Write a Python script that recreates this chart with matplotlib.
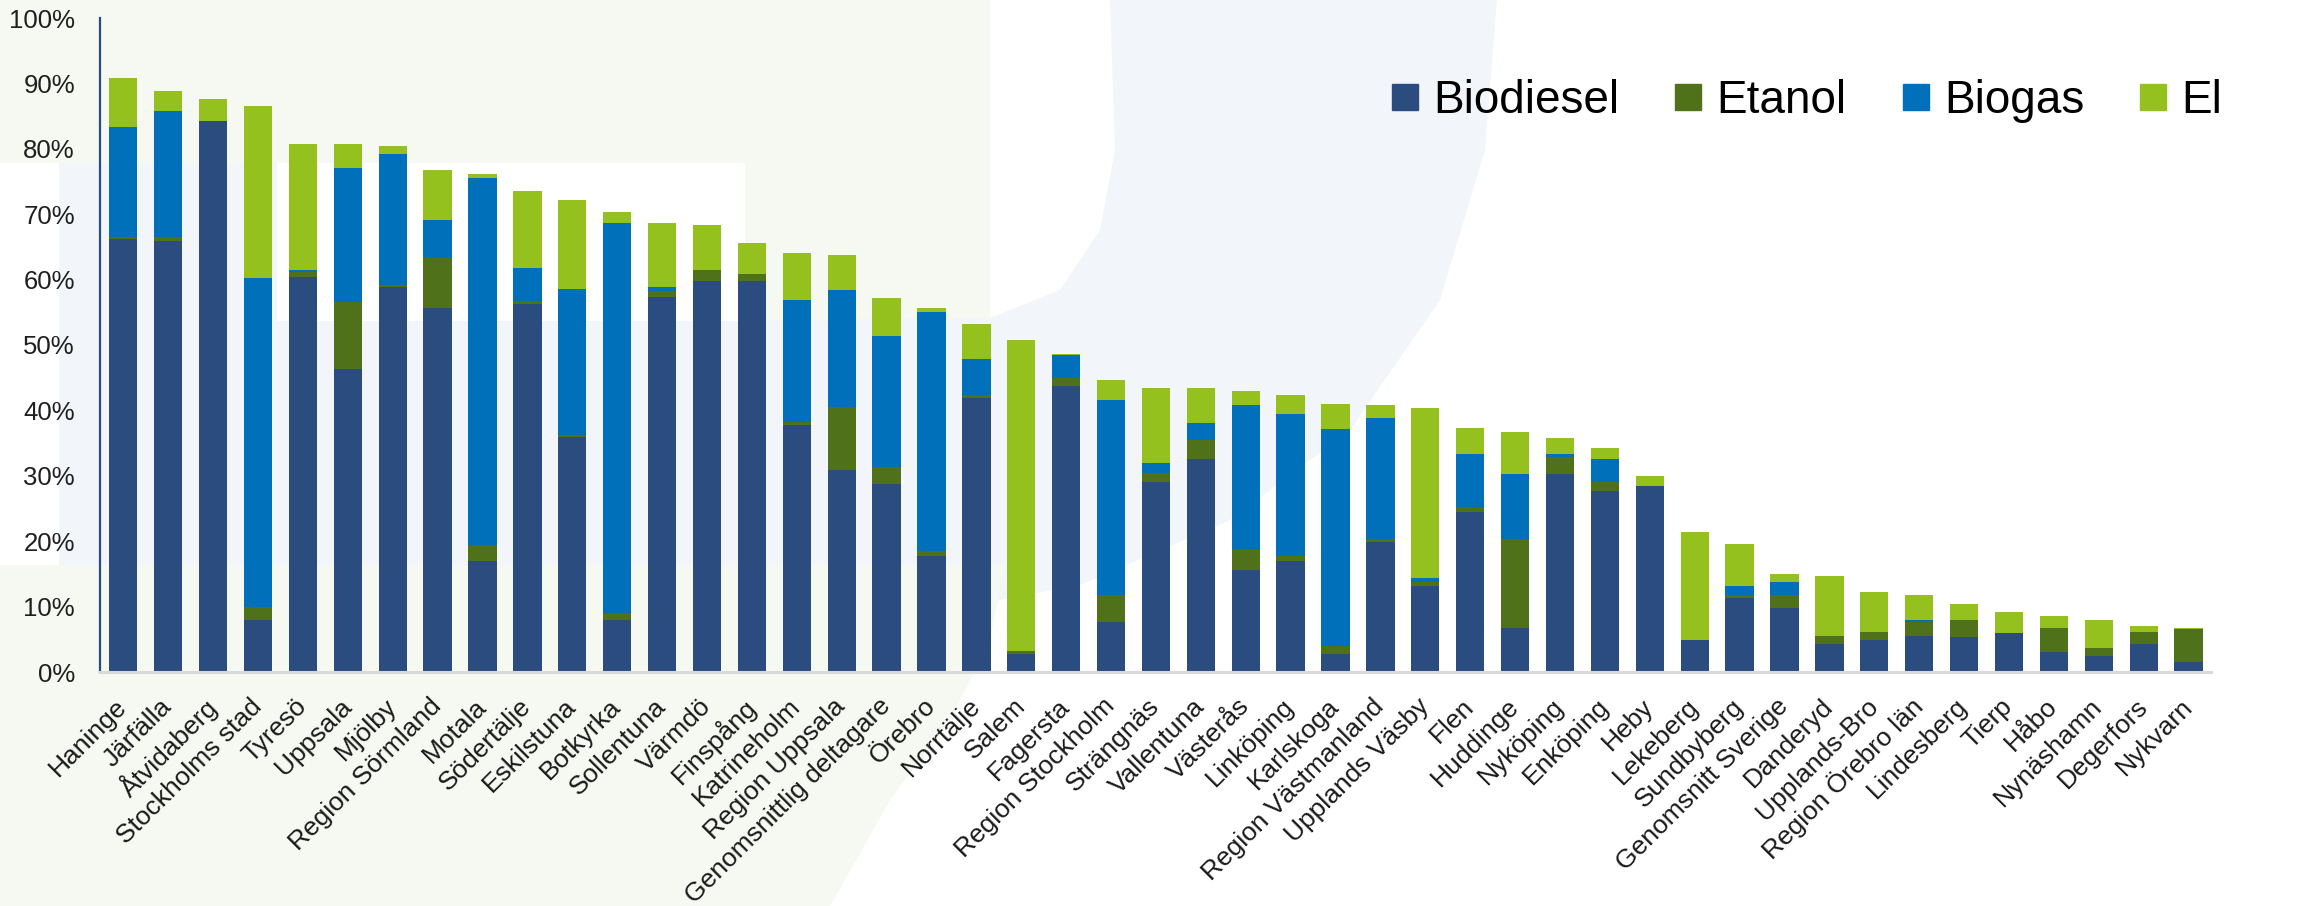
import numpy as np
import matplotlib
matplotlib.use("Agg")
import matplotlib.pyplot as plt
from matplotlib.patches import Polygon
from matplotlib.lines import Line2D

plt.rcParams["font.family"] = ["Liberation Sans", "DejaVu Sans"]

# --- data (share of fuel, %) ---
places = ["Haninge", "Järfälla", "Åtvidaberg", "Stockholms stad", "Tyresö", "Uppsala",
          "Mjölby", "Region Sörmland", "Motala", "Södertälje", "Eskilstuna", "Botkyrka",
          "Sollentuna", "Värmdö", "Finspång", "Katrineholm", "Region Uppsala",
          "Genomsnittlig deltagare", "Örebro", "Norrtälje", "Salem", "Fagersta",
          "Region Stockholm", "Strängnäs", "Vallentuna", "Västerås", "Linköping",
          "Karlskoga", "Region Västmanland", "Upplands Väsby", "Flen", "Huddinge",
          "Nyköping", "Enköping", "Heby", "Lekeberg", "Sundbyberg", "Genomsnitt Sverige",
          "Danderyd", "Upplands-Bro", "Region Örebro län", "Lindesberg", "Tierp", "Håbo",
          "Nynäshamn", "Degerfors", "Nykvarn"]

biodiesel = [66.2, 65.9, 84.3, 8.0, 60.4, 46.3, 58.9, 55.6, 16.9, 56.2, 35.9, 8.0,
             57.4, 59.8, 59.8, 37.7, 30.9, 28.8, 17.8, 41.9, 2.8, 43.8, 7.7, 29.1,
             32.5, 15.6, 16.9, 2.8, 19.9, 13.2, 24.5, 6.8, 30.3, 27.6, 28.5, 4.9,
             11.3, 9.8, 4.3, 4.9, 5.5, 5.3, 5.9, 3.1, 2.5, 4.3, 1.6]
etanol = [0.3, 0.6, 0.0, 1.9, 0.7, 10.2, 0.3, 7.7, 2.5, 0.6, 0.3, 1.0,
          0.9, 1.6, 1.0, 0.6, 9.6, 2.5, 0.7, 0.4, 0.4, 1.2, 4.0, 1.3,
          3.0, 3.2, 0.9, 1.2, 0.4, 0.6, 0.7, 13.5, 2.5, 1.5, 0.0, 0.0,
          0.4, 1.9, 1.2, 1.2, 2.1, 2.7, 0.0, 3.7, 1.2, 1.8, 4.9]
biogas = [16.8, 19.3, 0.0, 50.3, 0.3, 20.5, 20.0, 5.8, 56.1, 4.9, 22.4, 59.7,
          0.6, 0.0, 0.0, 18.6, 17.9, 20.1, 36.6, 5.5, 0.0, 3.4, 29.9, 1.5,
          2.5, 22.0, 21.7, 33.1, 18.6, 0.6, 8.2, 10.0, 0.6, 3.4, 0.0, 0.0,
          1.5, 2.1, 0.0, 0.0, 0.4, 0.0, 0.0, 0.0, 0.0, 0.0, 0.0]
el = [7.6, 3.1, 3.3, 26.3, 19.3, 3.7, 1.2, 7.6, 0.6, 11.9, 13.5, 1.6,
      9.8, 7.0, 4.8, 7.1, 5.3, 5.8, 0.6, 5.4, 47.6, 0.3, 3.1, 11.6,
      5.5, 2.1, 2.8, 3.9, 1.9, 26.0, 3.9, 6.4, 2.4, 1.8, 1.5, 16.5,
      6.4, 1.2, 9.2, 6.2, 3.7, 2.4, 3.3, 1.8, 4.3, 1.0, 0.3]

series = ["Biodiesel", "Etanol", "Biogas", "El"]
colors = ["#2b4c7e", "#4f7119", "#0070ba", "#95c11f"]

W, H = 2302, 906
fig = plt.figure(figsize=(W / 100, H / 100), dpi=100)
fig.patch.set_facecolor("white")


def px(pts):
    # figure pixels (y down) -> figure fraction
    return [(x / W, 1 - y / H) for x, y in pts]


def shade(pts, c):
    fig.patches.append(Polygon(px(pts), closed=True, transform=fig.transFigure,
                               facecolor=c, edgecolor="none", zorder=-5))


# faint watermark behind the chart
green = "#f6f8f2"
blue = "#f2f5f9"
shade([(0, 0), (990, 0), (990, 321), (745, 321), (745, 163), (0, 163)], green)
shade([(59, 163), (277, 163), (277, 321), (745, 321), (990, 318), (1060, 290),
       (1100, 230), (1115, 150), (1110, 0), (1497, 0), (1485, 150), (1440, 300),
       (1350, 430), (1230, 520), (1080, 585), (920, 615), (800, 625), (760, 600),
       (59, 565)], blue)
shade([(0, 565), (1005, 565), (990, 640), (950, 720), (890, 800), (830, 906),
       (0, 906)], green)

ax = fig.add_axes([100 / W, 1 - 672 / H, (2211 - 100) / W, (672 - 18) / H])
ax.set_facecolor("none")
ax.set_zorder(2)

x = np.arange(len(places))
bottom = np.zeros(len(places))
for name, vals, c in zip(series, [biodiesel, etanol, biogas, el], colors):
    v = np.array(vals)
    ax.bar(x, v, 0.63, bottom=bottom, color=c, label=name, zorder=2)
    bottom += v

ax.set_xlim(-0.52, len(places) - 1 + 0.5)
ax.set_ylim(0, 100)
ax.set_yticks(np.arange(0, 101, 10))
ax.set_yticklabels([f"{v}%" for v in range(0, 101, 10)])
ax.tick_params(axis="y", length=0, pad=18, labelsize=18.5, labelcolor="#1f1f1f")
ax.tick_params(axis="x", length=0, pad=22)
ax.set_xticks(x)
ax.set_xticklabels(places, rotation=45, ha="right", va="center",
                   rotation_mode="anchor", fontsize=19, color="#1a1a1a")

for s in ["top", "right"]:
    ax.spines[s].set_visible(False)
ax.spines["left"].set_color("#2b4c7e")
ax.spines["left"].set_linewidth(1.6)
ax.spines["bottom"].set_color("#d9d9d9")
ax.spines["bottom"].set_linewidth(2.2)

handles = [Line2D([], [], marker="s", linestyle="none", markersize=18.7, color=c)
           for c in colors]
fig.legend(handles, series, loc="center left", bbox_to_anchor=(1392 / W, 1 - 101 / H),
           ncol=4, frameon=False, fontsize=33, handlelength=0.57, handletextpad=0.33,
           columnspacing=1.22, borderpad=0, borderaxespad=0)

fig.savefig("out.png", dpi=100)
